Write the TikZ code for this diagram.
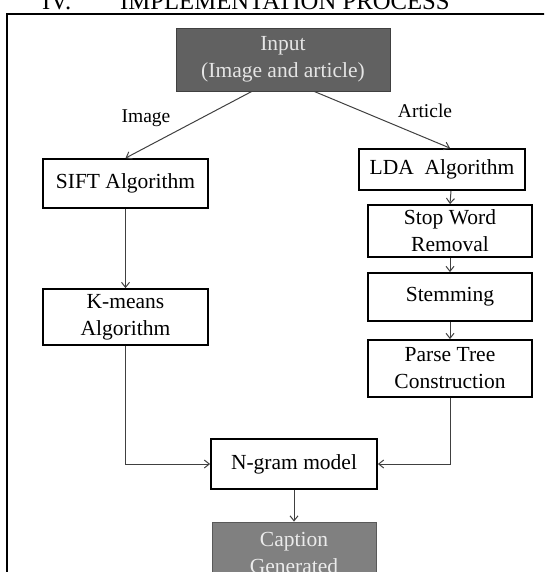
\documentclass[tikz,border=0pt]{standalone}
\usepackage{fontspec}
\setmainfont{Liberation Serif}
\usetikzlibrary{arrows.meta,calc}
\begin{document}
\begin{tikzpicture}[x=1pt,y=-1pt,
  boxfont/.style={font=\fontsize{21.5}{27}\selectfont},
  box/.style={draw=black,line width=1.8pt,fill=white,inner sep=0pt,align=center,boxfont},
  darkbox/.style={draw=black!75,line width=0.8pt,fill=black!62,text=black!10,inner sep=0pt,align=center,boxfont},
  capbox/.style={draw=black!65,line width=0.8pt,fill=black!50,text=black!8,inner sep=0pt,align=center,boxfont},
  conn/.style={draw=black!75,line width=1pt,-{Straight Barb[length=5pt,width=8pt]}},
  lab/.style={inner sep=0pt,font=\fontsize{19.5}{22}\selectfont},
  head/.style={inner sep=0pt,anchor=base west,font=\fontsize{24.7}{26}\selectfont}]
\clip (0,0) rectangle (544,572);
% heading (cut off at top)
\node[head] (hiv) at (42,10) {IV.};
\node[head] (htitle) at (120,10) {IMPLEMENTATION PROCESS};
% frame
\draw[line width=1.8pt] (7,600) -- (7,14) -- (600,14);
% nodes
\node[darkbox,minimum width=214pt,minimum height=63pt] (in) at (283,59.5) {Input\\(Image and article)};
\node[box,minimum width=165pt,minimum height=49pt] (sift) at (125.5,183.5) {SIFT Algorithm};
\node[box,minimum width=165pt,minimum height=56pt] (km) at (125.5,317) {K-means\\Algorithm};
\node[box,minimum width=166pt,minimum height=41pt] (lda) at (442,169.5) {LDA\ \ Algorithm};
\node[box,minimum width=164pt,minimum height=52pt] (stop) at (450,231) {Stop Word\\Removal};
\node[box,minimum width=164pt,minimum height=48pt] (stem) at (450,297) {Stemming};
\node[box,minimum width=164pt,minimum height=57pt] (parse) at (450,368.5) {Parse Tree\\Construction};
\node[box,minimum width=166pt,minimum height=50pt] (ngram) at (294,464) {N-gram model};
\node[capbox,minimum width=164pt,minimum height=62pt] (cap) at (294,553) {Caption\\Generated};
% labels
\node[lab] (limg) at (146,118) {Image};
\node[lab] (lart) at (425,111) {Article};
% connectors
\draw[conn] ($(in.south west)!0.355!(in.south east)$) -- (sift.north);
\draw[conn] ($(in.south west)!0.645!(in.south east)$) -- ($(lda.north)+(8,0)$);
\draw[conn] ($(lda.south)+(9,0)$) -- (stop.north);
\draw[conn] (stop.south) -- (stem.north);
\draw[conn] (stem.south) -- (parse.north);
\draw[conn] (sift.south) -- (km.north);
\draw[conn] (km.south) |- (ngram.west);
\draw[conn] (parse.south) |- (ngram.east);
\draw[conn] (ngram.south) -- (cap.north);
\end{tikzpicture}
\end{document}
